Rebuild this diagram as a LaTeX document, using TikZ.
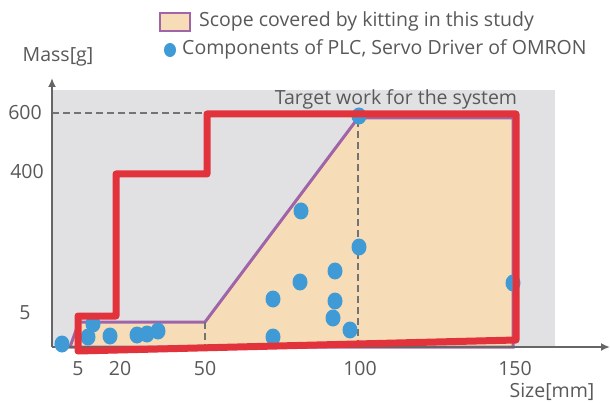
\documentclass[tikz,border=0pt]{standalone}
\usepackage{fontspec}
\setmainfont{Open Sans}
\begin{document}
\begin{tikzpicture}[x=1pt,y=-1pt,
  txt/.style={text=black!65, font=\fontsize{19.5}{20}\selectfont, inner sep=0pt},
  dot/.style={fill=dotblue, draw=none},
  axisline/.style={draw=black!60, line width=2pt, -{Latex[length=9pt,width=8pt]}},
  guide/.style={draw=black!55, dashed, dash pattern=on 7pt off 4pt, line width=1.1pt}]
\usetikzlibrary{arrows.meta}
\definecolor{bggray}{HTML}{E1E1E3}
\definecolor{scopefill}{HTML}{F7DDB7}
\definecolor{scopeline}{HTML}{A065A8}
\definecolor{redline}{HTML}{E2323C}
\definecolor{dotblue}{HTML}{3F9AD5}
\useasboundingbox (0,0) rectangle (610,403);
\fill[white] (0,0) rectangle (610,403);
% background
\fill[bggray] (52,90) rectangle (555,347);
% scope region
\filldraw[fill=scopefill, draw=scopeline, line width=3pt]
  (70,347) -- (79,322) -- (205,322) -- (358,118) -- (513,118) -- (513,347) -- cycle;
% guides
\coordinate (y600) at (52,113);
\coordinate (r600) at (207,113);
\draw[guide] (y600) -- (r600);
\coordinate (g50t) at (205,322); \coordinate (g50b) at (205,347);
\draw[guide] (g50t) -- (g50b);
\coordinate (g100t) at (358,120); \coordinate (g100b) at (358,347);
\draw[guide] (g100t) -- (g100b);
% axes
\coordinate (origin) at (52,347);
\coordinate (ytop) at (52,78);
\coordinate (xend) at (610,347);
\draw[axisline] (origin) -- (ytop);
\draw[axisline] (origin) -- (xend);
% dots
\foreach \px/\py in {62/344, 88/337, 93/324, 110/336, 137/335, 147/334, 158/331,
  301/211, 359/247, 335/271, 300/282, 273/299, 335/301, 333/318, 350/330, 273/337, 513/283, 359/116}
  \fill[dot] (\px,\py) ellipse[x radius=7.5, y radius=8.5];
% red outline
\draw[redline, line width=7pt, line join=round]
  (78,351) -- (78,316) -- (116,316) -- (116,174) -- (207,174) -- (207,114) -- (516,114) -- (516,340) -- cycle;
% labels
\node[txt] (mass) at (58,57) {Mass[g]};
\node[txt] (l600) at (25,113) {600};
\node[txt] (l400) at (27,172) {400};
\node[txt] (l5y) at (25,313) {5};
\node[txt] (x5) at (78,369) {5};
\node[txt] (x20) at (120,369) {20};
\node[txt] (x50) at (205,369) {50};
\node[txt] (x100) at (360,369) {100};
\node[txt] (x150) at (515,369) {150};
\node[txt] (size) at (552,392) {Size[mm]};
\node[txt] (target) at (396,99) {Target work for the system};
% legend
\node[draw=scopeline, fill=scopefill, line width=2.5pt, minimum width=30pt, minimum height=18pt, inner sep=0pt] (legbox) at (175,22) {};
\node[txt, anchor=west] (legtxt1) at (199,21) {Scope covered by kitting in this study};
\fill[dot] (170,50) ellipse[x radius=6, y radius=7];
\node[txt, anchor=west] (legtxt2) at (182,49) {Components of PLC, Servo Driver of OMRON};
\end{tikzpicture}
\end{document}
